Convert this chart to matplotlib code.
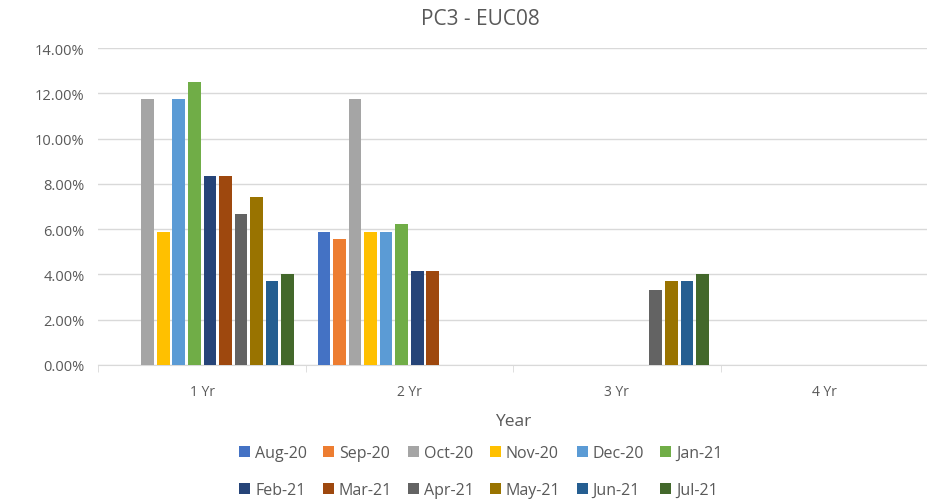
import numpy as np
import matplotlib.pyplot as plt
from matplotlib.ticker import PercentFormatter

plt.rcParams['font.family'] = ['Open Sans', 'DejaVu Sans']

# categories
years = ['1 Yr', '2 Yr', '3 Yr', '4 Yr']
months = ['Aug-20', 'Sep-20', 'Oct-20', 'Nov-20', 'Dec-20', 'Jan-21',
          'Feb-21', 'Mar-21', 'Apr-21', 'May-21', 'Jun-21', 'Jul-21']
colors = ['#4472C4', '#ED7D31', '#A5A5A5', '#FFC000', '#5B9BD5', '#70AD47',
          '#264478', '#9E480E', '#636363', '#997300', '#255E91', '#43682B']

nan = np.nan
# values per month (1 Yr, 2 Yr, 3 Yr, 4 Yr), in %
aug20 = [nan, 5.88, nan, nan]
sep20 = [nan, 5.56, nan, nan]
oct20 = [11.76, 11.76, nan, nan]
nov20 = [5.88, 5.88, nan, nan]
dec20 = [11.76, 5.88, nan, nan]
jan21 = [12.50, 6.25, nan, nan]
feb21 = [8.33, 4.17, nan, nan]
mar21 = [8.33, 4.17, nan, nan]
apr21 = [6.67, nan, 3.33, nan]
may21 = [7.41, nan, 3.70, nan]
jun21 = [3.70, nan, 3.70, nan]
jul21 = [4.00, nan, 4.00, nan]
series = [aug20, sep20, oct20, nov20, dec20, jan21,
          feb21, mar21, apr21, may21, jun21, jul21]

txt = '#595959'
fig = plt.figure(figsize=(9.28, 5.02), dpi=100)
ax = fig.add_axes([0.106, 0.271, 0.894, 0.631])

x = np.arange(len(years))
step = 0.075
w = 0.061
handles = []
for i, (vals, name, c) in enumerate(zip(series, months, colors)):
    off = (i - 5.5) * step
    b = ax.bar(x + off, np.array(vals, dtype=float), width=w, color=c, label=name, zorder=3)
    handles.append(b)

ax.set_xlim(-0.5, 3.5)
ax.set_ylim(0, 14)
ax.set_yticks(np.arange(0, 14.1, 2))
ax.yaxis.set_major_formatter(PercentFormatter(decimals=2))
ax.grid(axis='y', color='#d9d9d9', lw=1, zorder=0)
for s in ['top', 'right', 'left']:
    ax.spines[s].set_visible(False)
ax.spines['bottom'].set_color('#d9d9d9')

ax.set_xticks(x)
ax.set_xticklabels(years)
ax.set_xticks(np.arange(-0.5, 3.6, 1), minor=True)
ax.tick_params(axis='x', which='major', length=0, pad=14, labelsize=10, labelcolor=txt)
ax.tick_params(axis='x', which='minor', length=5, color='#d9d9d9')
ax.tick_params(axis='y', length=0, pad=10, labelsize=10.5, labelcolor=txt)

fig.text(0.518, 0.962, 'PC3 - EUC08', fontsize=15, color=txt, ha='center', va='center')
ax.set_xlabel('Year', fontsize=12.5, color=txt, labelpad=10)

# legend fills column by column, so interleave to get two rows of six
order = [j for k in range(6) for j in (k, k + 6)]
fig.legend([handles[j] for j in order], [months[j] for j in order],
           loc='center', bbox_to_anchor=(0.518, 0.059), ncol=6, frameon=False,
           fontsize=11.5, labelcolor=txt, handlelength=0.7, handleheight=0.7,
           handletextpad=0.3, columnspacing=1.0, labelspacing=1.3,
           borderpad=0, borderaxespad=0)

fig.savefig('out.png', dpi=100)
